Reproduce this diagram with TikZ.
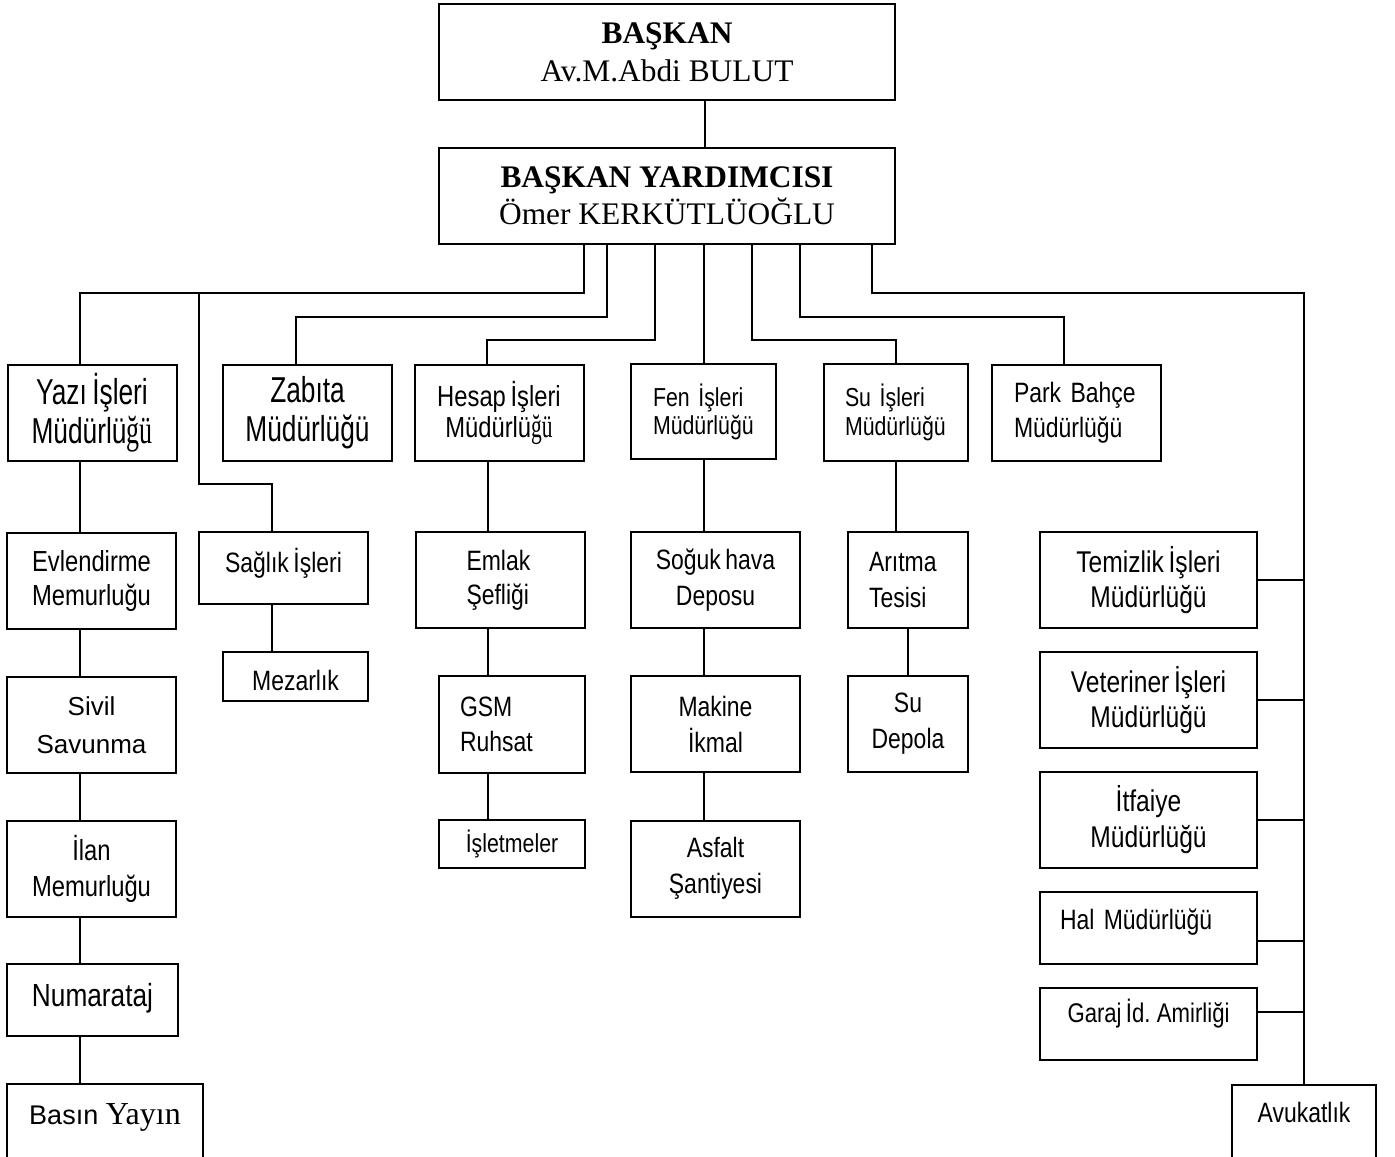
\documentclass[tikz,border=0pt]{standalone}
\usepackage{fontspec}
\setmainfont{Liberation Serif}
\newfontfamily\narrow[FakeStretch=0.82, WordSpace=0.7]{Liberation Sans}
\newfontfamily\xnarrow[FakeStretch=0.73, WordSpace=0.75]{Liberation Sans}
\newfontfamily\narrowrm[FakeStretch=0.65]{Liberation Serif}
\newfontfamily\plainsans{Liberation Sans}
\newcommand{\fsz}[2]{\fontsize{#1}{#2}\selectfont}
\tikzset{box/.style = {draw, line width=1pt, inner sep=0, align=center}}
\tikzset{link/.style = {line width=0.8pt}}
\tikzset{wide/.style = {minimum width=84.5pt, minimum height=48pt}}
\tikzset{rbox/.style = {minimum width=108.5pt, minimum height=48pt}}

\begin{document}
\begin{tikzpicture}[x=0.5pt, y=-0.5pt]
  \useasboundingbox (0, 0) rectangle (1395, 1156);

  \node [box, minimum width=228pt, minimum height=48pt, font=\fsz{15.7}{19}] (baskan) at (667, 52)
        {\textbf{BAŞKAN}\\Av.M.Abdi BULUT};
  \node [box, minimum width=228pt, minimum height=48pt, font=\fsz{15.7}{18.5}] (yard) at (667, 196)
        {\textbf{BAŞKAN YARDIMCISI}\\Ömer KERKÜTLÜOĞLU};

  \node [box, wide, font=\xnarrow\fsz{18}{19.5}] (yazi) at (92, 413) {Yazı İşleri\\Müdürlü{\narrowrm\fsz{20}{19.5}ğü}};
  \node [box, wide, font=\xnarrow\fsz{18}{19.5}] (zabita) at (307.5, 413) {Zabıta\\Müdürlüğü};
  \node [box, wide, font=\narrow\fsz{14.5}{15.5}] (hesap) at (499, 413) {Hesap İşleri\\Müdürlü{\narrowrm\fsz{16.5}{15.5}ğü}};
  \node [box, minimum width=72.5pt, minimum height=47.5pt, font=\narrow\fsz{13}{14},
         text width=50.5pt, align=left] (fen) at (703.5, 411.5) {Fen İşleri\\Müdürlüğü};
  \node [box, minimum width=72pt, minimum height=48.5pt, font=\narrow\fsz{13}{14.5},
         text width=51pt, align=left] (su) at (896, 412.5) {Su İşleri\\Müdürlüğü};
  \node [box, wide, font=\narrow\fsz{14}{17.5}, text width=62pt, align=left] (park) at (1076, 412.5)
        {Park Bahçe\\Müdürlüğü};

  \node [box, wide, font=\narrow\fsz{14.5}{17}] (evlen) at (91.5, 580.5) {Evlendirme\\Memurluğu};
  \node [box, wide, font=\plainsans\fsz{13}{19}] (sivil) at (91.5, 725) {Sivil\\Savunma};
  \node [box, wide, font=\narrow\fsz{14.5}{18}] (ilan) at (91.5, 869) {İlan\\Memurluğu};
  \node [box, minimum width=85.5pt, minimum height=36pt, font=\narrow\fsz{16}{19},
         text height=11.5pt, text depth=5pt] (numa) at (92.5, 1000) {Numarataj};
  \node [box, minimum width=98pt, minimum height=40.5pt, font=\plainsans\fsz{13.5}{16},
         text height=9.7pt, text depth=9.5pt] (basin) at (105, 1124.5)
        {Basın {\rmfamily\fsz{16}{19}Yayın}};

  \node [box, minimum width=84.5pt, minimum height=36pt, font=\narrow\fsz{14}{17},
         text height=10pt, text depth=6pt] (saglik) at (283.5, 568) {Sağlık İşleri};
  \node [box, minimum width=72.5pt, minimum height=24.5pt, font=\narrow\fsz{14}{17},
         text height=13.5pt, text depth=0pt] (mezar) at (295.5, 676.5) {Mezarlık};

  \node [box, wide, font=\narrow\fsz{14}{17}, text width=34pt, align=left] (emlak) at (500.5, 580)
        {Emlak\\Şefliği};
  \node [box, minimum width=73pt, minimum height=48.5pt, font=\narrow\fsz{14}{17.5},
         text width=52pt, align=left] (gsm) at (512, 724.5) {GSM\\Ruhsat};
  \node [box, minimum width=73pt, minimum height=24pt, font=\narrow\fsz{13}{15}] (islet) at (512, 844)
        {İşletmeler};

  \node [box, wide, font=\narrow\fsz{14}{18}] (soguk) at (715.5, 580) {Soğuk hava\\Deposu};
  \node [box, wide, font=\narrow\fsz{14}{18}] (makine) at (715.5, 724) {Makine\\İkmal};
  \node [box, wide, font=\narrow\fsz{14}{18}] (asfalt) at (715.5, 868.5) {Asfalt\\Şantiyesi};

  \node [box, minimum width=60pt, minimum height=48pt, font=\narrow\fsz{14}{18},
         text width=39pt, align=left] (aritma) at (908, 580) {Arıtma\\Tesisi};
  \node [box, minimum width=60pt, minimum height=48pt, font=\narrow\fsz{14}{18}] (sudepo) at (908, 724)
        {Su\\Depola};

  \node [box, rbox, font=\narrow\fsz{15}{17.5}] (temiz) at (1148.5, 580) {Temizlik İşleri\\Müdürlüğü};
  \node [box, rbox, font=\narrow\fsz{15}{17.5}] (veter) at (1148.5, 700) {Veteriner İşleri\\Müdürlüğü};
  \node [box, rbox, font=\narrow\fsz{15}{18}] (itfa) at (1148.5, 820) {İtfaiye\\Müdürlüğü};
  \node [box, rbox, minimum height=36pt, font=\narrow\fsz{14}{17}, text height=10pt, text depth=9pt,
         text width=88.5pt, align=left] (hal) at (1148.5, 928) {Hal Müdürlüğü};
  \node [box, rbox, minimum height=36pt, font=\narrow\fsz{13.5}{16}, text height=9.7pt,
         text depth=11pt] (garaj) at (1148.5, 1024) {Garaj İd. Amirliği};
  \node [box, minimum width=72pt, minimum height=40pt, font=\narrow\fsz{14}{17}, text height=10pt,
         text depth=13pt] (avuk) at (1304, 1125) {Avukatlık};

  \coordinate (d1) at (yard.south -| 584, 0);
  \coordinate (d2) at (yard.south -| 607, 0);
  \coordinate (d3) at (yard.south -| 655, 0);
  \coordinate (d4) at (yard.south -| 704, 0);
  \coordinate (d5) at (yard.south -| 752, 0);
  \coordinate (d6) at (yard.south -| 800, 0);
  \coordinate (d7) at (yard.south -| 872, 0);
  \coordinate (j1) at (199, 292);

  \draw [link] (baskan.south -| 705, 0) -- (yard.north -| 705, 0);

  \draw [link] (d1) -- ++(0, 48) -| (yazi.north -| 80, 0);
  \draw [link] (j1) -- (199, 484) -| (saglik.north -| 272, 0);
  \draw [link] (d2) -- ++(0, 72) -| (zabita.north -| 296, 0);
  \draw [link] (d3) -- ++(0, 95) -| (hesap.north -| 487, 0);
  \draw [link] (d4) -- (fen.north -| d4);
  \draw [link] (d5) -- ++(0, 95) -| (su.north);
  \draw [link] (d6) -- ++(0, 72) -| (park.north -| 1064, 0);
  \draw [link] (d7) -- ++(0, 48) -| (avuk.north);

  \foreach \a/\b in {yazi/evlen, evlen/sivil, sivil/ilan, ilan/numa, numa/basin}
    \draw [link] (\a.south -| 80, 0) -- (\b.north -| 80, 0);
  \draw [link] (saglik.south -| 272, 0) -- (mezar.north -| 272, 0);
  \foreach \a/\b in {hesap/emlak, emlak/gsm, gsm/islet}
    \draw [link] (\a.south -| 488, 0) -- (\b.north -| 488, 0);
  \foreach \a/\b in {fen/soguk, soguk/makine, makine/asfalt}
    \draw [link] (\a.south -| 704, 0) -- (\b.north -| 704, 0);
  \foreach \a/\b in {su/aritma, aritma/sudepo}
    \draw [link] (\a.south) -- (\b.north -| \a.south);

  \foreach \r in {temiz, veter, itfa}
    \draw [link] (\r.east) -- (\r.east -| avuk.north);
  \draw [link] (hal.east |- 0, 941) -- (avuk.north |- 0, 941);
  \draw [link] (garaj.east |- 0, 1012) -- (avuk.north |- 0, 1012);
\end{tikzpicture}
\end{document}
